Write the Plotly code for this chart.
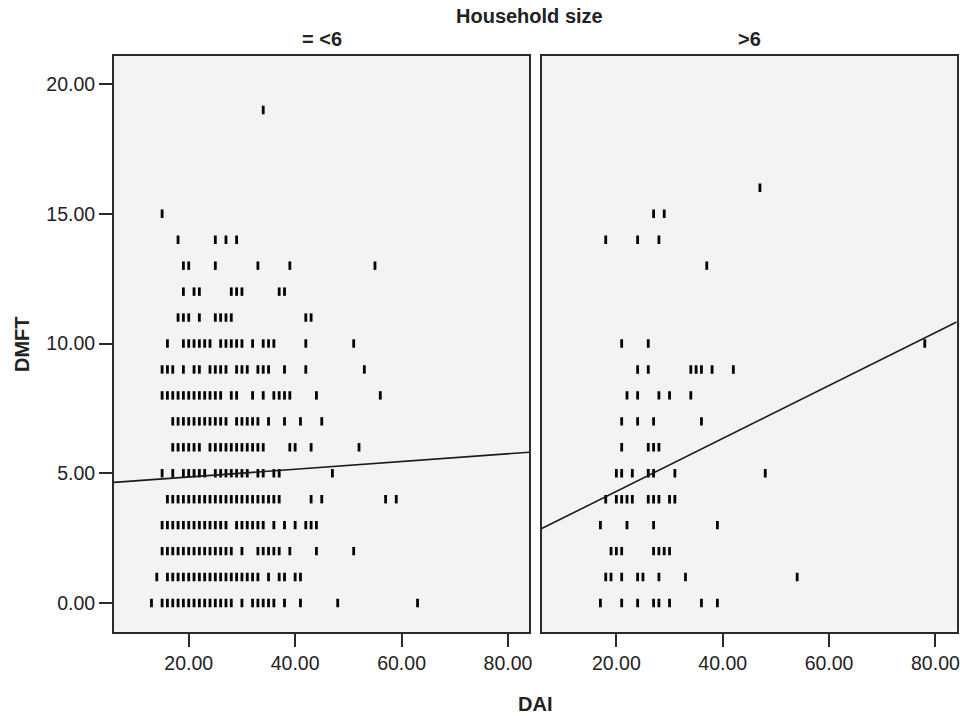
import plotly.graph_objects as go

# ---------------- data ----------------
# Left panel: Household size "= <6"  (DAI values on each DMFT row)
L0 = [13, 15, 16, 17, 18, 19, 20, 21, 22, 23, 24, 25, 26, 27, 28, 30, 32, 33, 34, 35, 36, 38, 41, 48, 63]
L1 = [14, 16, 17, 18, 19, 20, 21, 22, 23, 24, 25, 26, 27, 28, 29, 30, 31, 32, 33, 35, 37, 38, 40, 41]
L2 = [15, 16, 17, 18, 19, 20, 21, 22, 23, 24, 25, 26, 27, 28, 30, 33, 34, 35, 36, 37, 39, 44, 51]
L3 = [15, 16, 17, 18, 19, 20, 21, 22, 23, 24, 25, 26, 27, 29, 30, 31, 32, 33, 34, 36, 38, 40, 42, 43, 44]
L4 = [16, 17, 18, 19, 20, 21, 22, 23, 24, 25, 26, 27, 28, 29, 30, 31, 32, 33, 34, 35, 36, 37, 43, 45, 57, 59]
L5 = [15, 17, 19, 20, 21, 22, 23, 25, 26, 27, 28, 29, 30, 31, 33, 34, 36, 37, 47]
L6 = [17, 18, 19, 20, 21, 22, 24, 25, 26, 27, 28, 29, 30, 31, 32, 33, 34, 39, 40, 43, 52]
L7 = [17, 18, 19, 20, 21, 22, 23, 24, 25, 26, 27, 29, 30, 31, 32, 33, 35, 38, 41, 45]
L8 = [15, 16, 17, 18, 19, 20, 21, 22, 23, 24, 25, 26, 28, 29, 32, 34, 36, 37, 38, 39, 44, 56]
L9 = [15, 16, 17, 19, 21, 22, 24, 25, 26, 27, 29, 30, 31, 33, 34, 35, 38, 42, 53]
L10 = [16, 19, 20, 21, 22, 23, 24, 26, 27, 28, 29, 30, 32, 34, 35, 36, 42, 51]
L11 = [18, 19, 20, 22, 25, 26, 27, 28, 42, 43]
L12 = [19, 21, 22, 28, 29, 30, 37, 38]
L13 = [19, 20, 25, 33, 39, 55]
L14 = [18, 25, 27, 29]
L15 = [15]
L19 = [34]
left_rows = [(0, L0), (1, L1), (2, L2), (3, L3), (4, L4), (5, L5), (6, L6), (7, L7),
             (8, L8), (9, L9), (10, L10), (11, L11), (12, L12), (13, L13), (14, L14),
             (15, L15), (19, L19)]

# Right panel: Household size ">6"
R0 = [17, 21, 24, 27, 28, 30, 36, 39]
R1 = [18, 19, 21, 24, 25, 28, 33, 54]
R2 = [19, 20, 21, 27, 28, 29, 30]
R3 = [17, 22, 27, 39]
R4 = [18, 20, 21, 22, 23, 26, 27, 28, 30, 31]
R5 = [20, 21, 23, 26, 27, 31, 48]
R6 = [21, 26, 27, 28]
R7 = [21, 24, 27, 36]
R8 = [22, 24, 28, 30, 34]
R9 = [24, 26, 34, 35, 36, 38, 42]
R10 = [21, 26, 78]
R13 = [37]
R14 = [18, 24, 28]
R15 = [27, 29]
R16 = [47]
right_rows = [(0, R0), (1, R1), (2, R2), (3, R3), (4, R4), (5, R5), (6, R6), (7, R7),
              (8, R8), (9, R9), (10, R10), (13, R13), (14, R14), (15, R15), (16, R16)]

# Fit lines (intercept, slope)
left_fit = (4.56, 0.01487)
right_fit = (2.26, 0.102)

panel_titles = ["= <6", ">6"]
x_ticks = [20, 40, 60, 80]
y_ticks = [0, 5, 10, 15, 20]
x_range = [5.96, 84.0]
y_range = [-1.106, 21.08]

# ---------------- figure ----------------
def flatten(rows):
    xs, ys = [], []
    for dmft, dais in rows:
        for d in dais:
            xs.append(d)
            ys.append(dmft)
    return xs, ys

fig = go.Figure()
marker = dict(symbol="line-ns", size=6, color="black",
              line=dict(color="black", width=2.8))

for i, (rows, fit) in enumerate([(left_rows, left_fit), (right_rows, right_fit)]):
    xs, ys = flatten(rows)
    xa = "x" if i == 0 else "x2"
    ya = "y" if i == 0 else "y2"
    fig.add_trace(go.Scatter(x=xs, y=ys, mode="markers", marker=marker,
                             xaxis=xa, yaxis=ya, showlegend=False, hoverinfo="x+y"))
    lx = x_range
    ly = [fit[0] + fit[1] * v for v in lx]
    fig.add_trace(go.Scatter(x=lx, y=ly, mode="lines",
                             line=dict(color="#1a1a1a", width=1.6),
                             xaxis=xa, yaxis=ya, showlegend=False, hoverinfo="skip"))

W, H = 960, 716
L_dom = [114 / W, 529.3 / W]
R_dom = [541.7 / W, 956.7 / W]
Y_dom = [1 - 631.7 / H, 1 - 56 / H]

tickfont = dict(family="Liberation Sans, Arial, sans-serif", size=19.5, color="#222")
axis_common = dict(showline=True, mirror=True, linecolor="#2a2a2a", linewidth=2,
                   showgrid=False, zeroline=False, ticks="outside", ticklen=13,
                   tickwidth=1.5, tickcolor="#2a2a2a", tickfont=tickfont,
                   automargin=False, ticklabeloverflow="allow")

fig.update_layout(
    width=W, height=H,
    margin=dict(l=0, r=0, t=0, b=0, autoexpand=False),
    paper_bgcolor="white", plot_bgcolor="#f2f4f3",
    xaxis=dict(domain=L_dom, range=x_range, tickvals=x_ticks, tickformat=".2f",
               anchor="y", **axis_common),
    xaxis2=dict(domain=R_dom, range=x_range, tickvals=x_ticks, tickformat=".2f",
                anchor="y2", **axis_common),
    yaxis=dict(domain=Y_dom, range=y_range, tickvals=y_ticks, tickformat=".2f",
               anchor="x", **axis_common),
    yaxis2=dict(domain=Y_dom, range=y_range, tickvals=y_ticks, showticklabels=False,
                anchor="x2", **{**axis_common, "ticks": ""}),
)

bold = dict(family="Liberation Sans, Arial, sans-serif", size=20, color="#222")
anns = [
    dict(text="<b>Household size</b>", x=529 / W, y=1 - 16 / H, font=bold),
    dict(text="<b>" + panel_titles[0].replace("<", "&lt;") + "</b>", x=321.5 / W, y=1 - 39 / H, font=bold),
    dict(text="<b>" + panel_titles[1].replace(">", "&gt;") + "</b>", x=749 / W, y=1 - 39 / H, font=bold),
    dict(text="<b>DAI</b>", x=535 / W, y=1 - 704 / H, font=bold),
    dict(text="<b>DMFT</b>", x=22 / W, y=1 - 344 / H, font=bold, textangle=-90),
]
for a in anns:
    fig.add_annotation(xref="paper", yref="paper", showarrow=False,
                       xanchor="center", yanchor="middle", **a)

fig.write_html("out.html", config={"displayModeBar": False},
               post_script="document.body.style.margin='0';document.body.style.overflow='hidden';")
